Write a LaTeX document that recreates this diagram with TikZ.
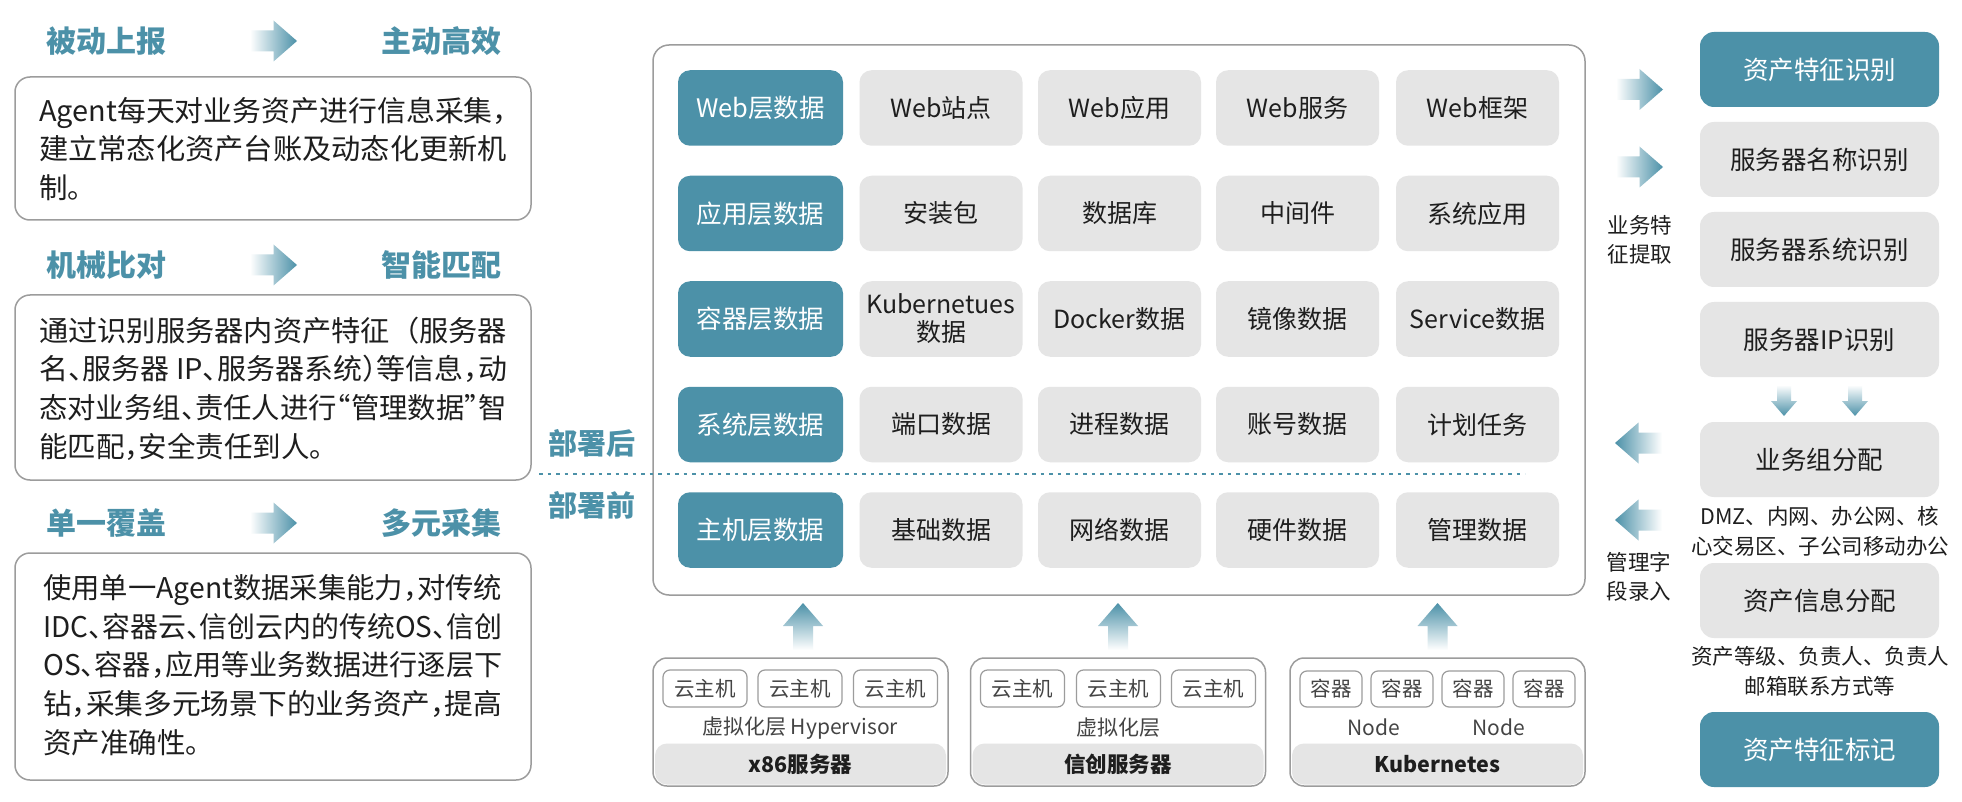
\documentclass[tikz,border=0pt]{standalone}
\usepackage{fontspec}
\usepackage{graphicx}
\setmainfont{Noto Sans CJK SC}
\newfontfamily\halffont[RawFeature=+halt]{Noto Sans CJK SC}
\newfontfamily\plaincjk{Noto Sans CJK SC}
\definecolor{tealc}{HTML}{4C91A8}
\definecolor{cellgray}{HTML}{E5E5E5}
\definecolor{bordergray}{HTML}{9C9C9C}
\definecolor{txt}{HTML}{1E1E1E}
\definecolor{subtxt}{HTML}{444444}
\newcommand\myfs[2]{\fontsize{#1pt}{#2pt}\selectfont}
\newcommand\fitA[1]{\resizebox{468pt}{\height}{#1}}
\newcommand\fitB[1]{\resizebox{459pt}{\height}{#1}}
\newcommand\arrR[2]{\shade[left color=white,right color=tealc] (#1-23.5,#2-10.5) -- (#1,#2-10.5) -- (#1,#2-20.5) -- (#1+23.5,#2) -- (#1,#2+20.5) -- (#1,#2+10.5) -- (#1-23.5,#2+10.5) -- cycle;}
\newcommand\arrL[2]{\shade[left color=tealc,right color=white] (#1-23.5,#2) -- (#1,#2-20.5) -- (#1,#2-10.5) -- (#1+23.5,#2-10.5) -- (#1+23.5,#2+10.5) -- (#1,#2+10.5) -- (#1,#2+20.5) -- cycle;}
\newcommand\arrU[2]{\shade[top color=tealc,bottom color=white] (#1,#2) -- (#1+20,#2+23) -- (#1+10,#2+23) -- (#1+10,#2+47) -- (#1-10,#2+47) -- (#1-10,#2+23) -- (#1-20,#2+23) -- cycle;}
\newcommand\arrD[2]{\shade[top color=white,bottom color=tealc] (#1-7,#2) -- (#1+7,#2) -- (#1+7,#2+16) -- (#1+13,#2+16) -- (#1,#2+31) -- (#1-13,#2+16) -- (#1-7,#2+16) -- cycle;}
\begin{document}
\begin{tikzpicture}[x=1pt,y=-1pt,
  hdr/.style={text=tealc,font=\bfseries\myfs{30}{30},inner sep=0pt},
  lbox/.style={draw=bordergray,line width=1.5pt,fill=white,rounded corners=15pt,inner sep=0pt},
  ltext/.style={align=left,text=txt,font=\halffont\myfs{28.5}{38.7},inner sep=0pt,anchor=west},
  bigbox/.style={draw=bordergray,line width=1.5pt,fill=white,rounded corners=16pt,inner sep=0pt,minimum width=932pt,minimum height=550pt},
  cellT/.style={fill=tealc,rounded corners=12pt,text=white,font=\myfs{25.5}{28},minimum width=165pt,minimum height=75.5pt,inner sep=0pt},
  cellG/.style={fill=cellgray,rounded corners=12pt,text=txt,font=\myfs{25}{28},minimum width=163pt,minimum height=75.5pt,inner sep=0pt,align=center},
  rT/.style={fill=tealc,rounded corners=14pt,text=white,font=\myfs{25.5}{28},minimum width=239pt,minimum height=75pt,inner sep=0pt},
  rG/.style={fill=cellgray,rounded corners=14pt,text=txt,font=\myfs{25.5}{28},minimum width=239pt,minimum height=75pt,inner sep=0pt},
  small/.style={text=txt,font=\myfs{21.5}{29.5},align=center,inner sep=0pt},
  botbox/.style={draw=bordergray,line width=1.5pt,fill=white,rounded corners=14pt,minimum width=295pt,minimum height=128pt,inner sep=0pt},
  bar/.style={fill=cellgray,rounded corners=12pt,minimum width=291pt,minimum height=41pt,inner sep=0pt,text=txt,font=\bfseries\myfs{21.5}{24}},
  vm/.style={draw=bordergray,line width=1.2pt,fill=white,rounded corners=7pt,minimum width=84pt,minimum height=37pt,inner sep=0pt,text=subtxt,font=\myfs{20.5}{22}},
  ct/.style={draw=bordergray,line width=1.2pt,fill=white,rounded corners=7pt,minimum width=62pt,minimum height=36pt,inner sep=0pt,text=subtxt,font=\myfs{20.5}{22}},
  sub/.style={text=subtxt,font=\myfs{21}{24},inner sep=0pt},
  dotline/.style={tealc,line width=2.5pt,dash pattern=on 3.5pt off 5pt}
]
\useasboundingbox (0,0) rectangle (1962,802);
\fill[white] (0,0) rectangle (1962,802);

% ---------- left column ----------
\node[hdr] (h1a) at (106,41) {被动上报};
\node[hdr] (h1b) at (441,41) {主动高效};
\arrR{273.5}{41}
\node[lbox,minimum width=516pt,minimum height=143pt] (b1) at (273,148.5) {};
\node[ltext] (t1) at (39,149) {\fitA{Agent每天对业务资产进行信息采集，}\\\fitA{建立常态化资产台账及动态化更新机}\\制。};

\node[hdr] (h2a) at (106,265) {机械比对};
\node[hdr] (h2b) at (441,265) {智能匹配};
\arrR{273.5}{265}
\node[lbox,minimum width=516pt,minimum height=185pt] (b2) at (273,387.5) {};
\node[ltext] (t2) at (39,388.5) {\fitA{通过识别服务器内资产特征{\plaincjk （}服务器}\\\fitA{名、服务器 IP、服务器系统）等信息，动}\\\fitA{态对业务组、责任人进行“管理数据”智}\\能匹配，安全责任到人。};

\node[hdr] (h3a) at (106,523) {单一覆盖};
\node[hdr] (h3b) at (441,523) {多元采集};
\arrR{273.5}{523}
\node[lbox,minimum width=516pt,minimum height=227pt] (b3) at (273,666.5) {};
\node[ltext] (t3) at (43,665) {\fitB{使用单一Agent数据采集能力，对传统}\\\fitB{IDC、容器云、信创云内的传统OS、信创}\\\fitB{OS、容器，应用等业务数据进行逐层下}\\\fitB{钻，采集多元场景下的业务资产，提高}\\资产准确性。};

% ---------- centre ----------
\node[bigbox] (main) at (1119,320) {};
\coordinate (dl) at (539,474);
\coordinate (dr) at (1525,474);
\draw[dotline] (dl) -- (dr);
\node[hdr,font=\bfseries\myfs{29}{29}] (after) at (592,443) {部署后};
\node[hdr,font=\bfseries\myfs{29}{29}] (before) at (592,505) {部署前};

\node[cellT] (r1c0) at (760.5,108) {Web层数据};
\node[cellG] (r1c1) at (941,108) {Web站点};
\node[cellG] (r1c2) at (1119.5,108) {Web应用};
\node[cellG] (r1c3) at (1297.5,108) {Web服务};
\node[cellG] (r1c4) at (1477.5,108) {Web框架};

\node[cellT] (r2c0) at (760.5,213.5) {应用层数据};
\node[cellG] (r2c1) at (941,213.5) {安装包};
\node[cellG] (r2c2) at (1119.5,213.5) {数据库};
\node[cellG] (r2c3) at (1297.5,213.5) {中间件};
\node[cellG] (r2c4) at (1477.5,213.5) {系统应用};

\node[cellT] (r3c0) at (760.5,319) {容器层数据};
\node[cellG] (r3c1) at (941,319) {Kubernetues\\数据};
\node[cellG] (r3c2) at (1119.5,319) {Docker数据};
\node[cellG] (r3c3) at (1297.5,319) {镜像数据};
\node[cellG] (r3c4) at (1477.5,319) {Service数据};

\node[cellT] (r4c0) at (760.5,424.5) {系统层数据};
\node[cellG] (r4c1) at (941,424.5) {端口数据};
\node[cellG] (r4c2) at (1119.5,424.5) {进程数据};
\node[cellG] (r4c3) at (1297.5,424.5) {账号数据};
\node[cellG] (r4c4) at (1477.5,424.5) {计划任务};

\node[cellT] (r5c0) at (760.5,530) {主机层数据};
\node[cellG] (r5c1) at (941,530) {基础数据};
\node[cellG] (r5c2) at (1119.5,530) {网络数据};
\node[cellG] (r5c3) at (1297.5,530) {硬件数据};
\node[cellG] (r5c4) at (1477.5,530) {管理数据};

% ---------- up arrows ----------
\arrU{803}{603}
\arrU{1118}{603}
\arrU{1437.5}{603}

% ---------- bottom boxes ----------
\node[botbox] (x86) at (800.5,722) {};
\node[bar] (x86bar) at (800.5,764) {x86服务器};
\node[vm] (v1) at (705,688.5) {云主机};
\node[vm] (v2) at (800,688.5) {云主机};
\node[vm] (v3) at (895.5,688.5) {云主机};
\node[sub] (hyp) at (800,728) {虚拟化层 Hypervisor};

\node[botbox] (xc) at (1118,722) {};
\node[bar] (xcbar) at (1118,764) {信创服务器};
\node[vm] (v4) at (1022.5,688.5) {云主机};
\node[vm] (v5) at (1118.5,688.5) {云主机};
\node[vm] (v6) at (1213.5,688.5) {云主机};
\node[sub] (virt) at (1118,728) {虚拟化层};

\node[botbox] (k8s) at (1437.5,722) {};
\node[bar] (k8sbar) at (1437.5,764) {Kubernetes};
\node[ct] (k1) at (1331,689) {容器};
\node[ct] (k2) at (1402,689) {容器};
\node[ct] (k3) at (1473,689) {容器};
\node[ct] (k4) at (1544,689) {容器};
\node[sub] (n1) at (1374,727) {Node};
\node[sub] (n2) at (1499,727) {Node};

% ---------- right column ----------
\arrR{1639.5}{89.5}
\arrR{1639.5}{167}
\node[small] (lab1) at (1640,240) {业务特\\征提取};
\arrL{1638.5}{443}
\arrL{1638.5}{520}
\node[small] (lab2) at (1639,577) {管理字\\段录入};

\node[rT] (s1) at (1819.5,69.5) {资产特征识别};
\node[rG] (s2) at (1819.5,159.5) {服务器名称识别};
\node[rG] (s3) at (1819.5,249.5) {服务器系统识别};
\node[rG] (s4) at (1819.5,339.5) {服务器IP识别};
\arrD{1784}{385}
\arrD{1855}{385}
\node[rG] (s5) at (1819.5,459.5) {业务组分配};
\node[small] (d1) at (1820,531.5) {DMZ、内网、办公网、核\\心交易区、子公司移动办公};
\node[rG] (s6) at (1819.5,600.5) {资产信息分配};
\node[small] (d2) at (1820,671.5) {资产等级、负责人、负责人\\邮箱联系方式等};
\node[rT] (s7) at (1819.5,749.5) {资产特征标记};
\end{tikzpicture}
\end{document}
